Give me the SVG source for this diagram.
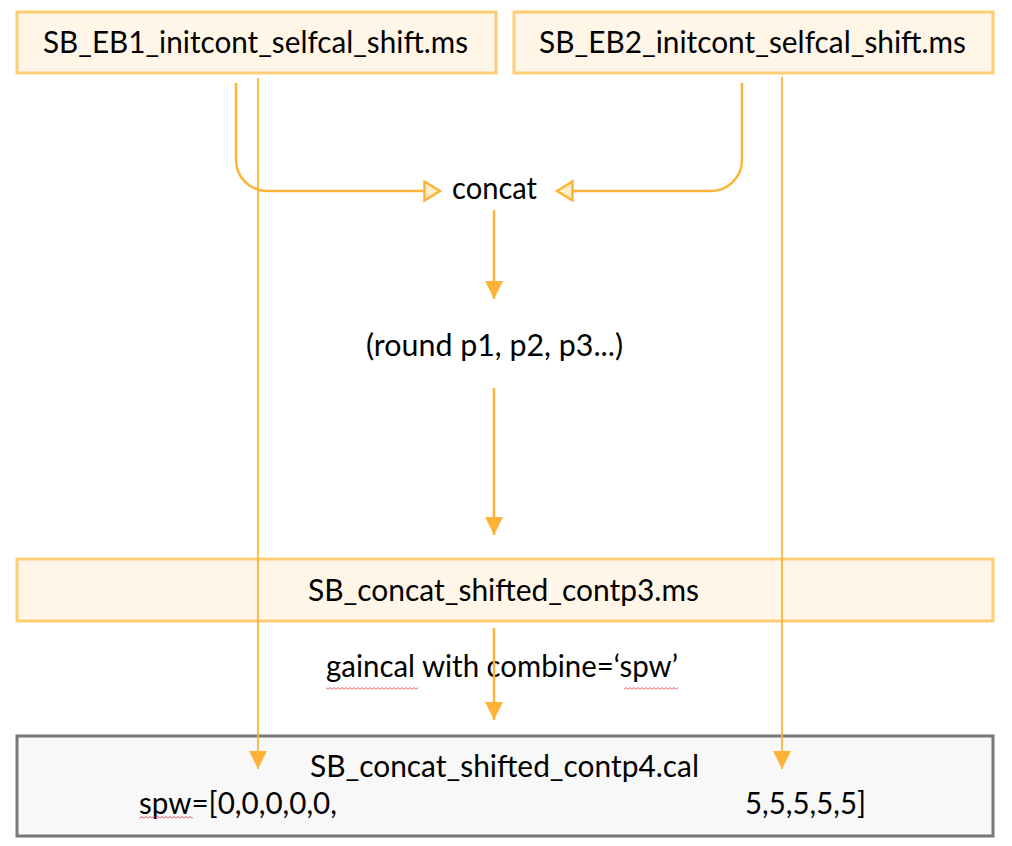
<svg xmlns="http://www.w3.org/2000/svg" width="1012" height="846" viewBox="0 0 1012 846">
  <style>
    .box { fill: #FFF6E8; stroke: #FFCD72; stroke-width: 3; }
    .outbox { fill: #F8F8F8; stroke: #777777; stroke-width: 3; }
    .t { font-family: Lato, "Open Sans", "Liberation Sans", sans-serif; font-size: 30px; fill: #000000; }
    .thick { fill: none; stroke: #FFB336; stroke-width: 2.5; }
    .mid { fill: none; stroke: #FFB336; stroke-width: 2.5; }
    .thin { fill: none; stroke: #FFB336; stroke-width: 1.8; }
  </style>
  <defs>
    <marker id="open" markerUnits="userSpaceOnUse" markerWidth="22" markerHeight="24" refX="17" refY="11" orient="auto">
      <path d="M1.5,1.5 L17,11 L1.5,20.5 Z" fill="#FFEFC8" stroke="#FFB336" stroke-width="2.4" stroke-linejoin="miter"/>
    </marker>
    <marker id="solid" markerUnits="userSpaceOnUse" markerWidth="20" markerHeight="20" refX="18" refY="9" orient="auto">
      <path d="M0,0 L18,9 L0,18 Z" fill="#FFB336"/>
    </marker>
    <pattern id="wavy" width="4" height="3" patternUnits="userSpaceOnUse">
      <path d="M0,2.5 L2,0.5 L4,2.5" fill="none" stroke="#E03030" stroke-width="0.9"/>
    </pattern>
  </defs>

  <g id="eb1">
    <rect class="box" x="17" y="12" width="479" height="61"/>
    <text class="t" x="43" y="53" textLength="425" lengthAdjust="spacingAndGlyphs">SB_EB1_initcont_selfcal_shift.ms</text>
  </g>
  <g id="eb2">
    <rect class="box" x="514" y="12" width="479" height="61"/>
    <text class="t" x="539" y="53" textLength="427" lengthAdjust="spacingAndGlyphs">SB_EB2_initcont_selfcal_shift.ms</text>
  </g>
  <g id="concat">
    <text class="t" x="452" y="199" textLength="85" lengthAdjust="spacingAndGlyphs">concat</text>
  </g>
  <g id="round">
    <text class="t" x="366" y="356" textLength="257" lengthAdjust="spacingAndGlyphs">(round p1, p2, p3...)</text>
  </g>
  <g id="contp3">
    <rect class="box" x="17" y="559" width="976" height="62"/>
    <text class="t" x="308" y="601" textLength="391" lengthAdjust="spacingAndGlyphs">SB_concat_shifted_contp3.ms</text>
  </g>
  <g id="gaincal">
    <text class="t" x="326" y="677" textLength="352" lengthAdjust="spacingAndGlyphs">gaincal with combine=‘spw’</text>
    <rect x="326" y="687" width="92" height="3" fill="url(#wavy)"/>
    <rect x="624" y="687" width="54" height="3" fill="url(#wavy)"/>
  </g>
  <g id="contp4">
    <rect class="outbox" x="17" y="736" width="976" height="100"/>
    <text class="t" x="310" y="777" textLength="389" lengthAdjust="spacingAndGlyphs">SB_concat_shifted_contp4.cal</text>
    <text class="t" x="139" y="814" textLength="198" lengthAdjust="spacingAndGlyphs">spw=[0,0,0,0,0,</text>
    <text class="t" x="745" y="814" textLength="121" lengthAdjust="spacingAndGlyphs">5,5,5,5,5]</text>
    <rect x="139" y="816" width="54" height="3" fill="url(#wavy)"/>
  </g>

  <g id="connectors">
    <path class="thick" d="M236,83 V160 A31,31 0 0 0 267,191 H440" marker-end="url(#open)"/>
    <path class="thick" d="M742,83 V160 A31,31 0 0 1 711,191 H557" marker-end="url(#open)"/>
    <path class="mid" d="M494,210 V299" marker-end="url(#solid)"/>
    <path class="mid" d="M494,388 V535" marker-end="url(#solid)"/>
    <path class="mid" d="M494,628 V720" marker-end="url(#solid)"/>
    <path class="thin" d="M258,78 V769" marker-end="url(#solid)"/>
    <path class="thin" d="M782,77 V769" marker-end="url(#solid)"/>
  </g>
</svg>
